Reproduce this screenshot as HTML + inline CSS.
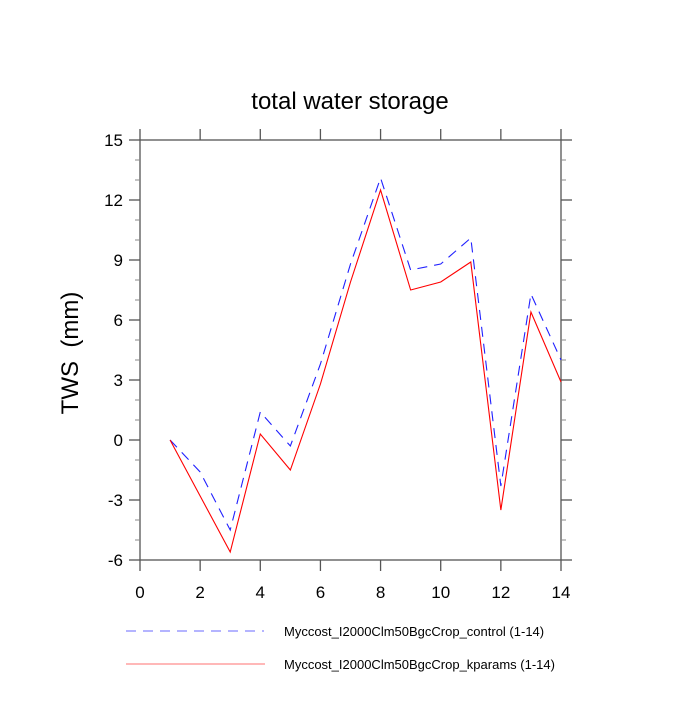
<!DOCTYPE html>
<html><head><meta charset="utf-8"><style>
body{margin:0;background:#fff}
svg text{font-family:"Liberation Sans",sans-serif;fill:#000}
</style></head><body>
<svg id="chart" width="700" height="700">
<text x="350" y="109" font-size="24" text-anchor="middle">total water storage</text>
<text transform="translate(78,353) rotate(-90)" font-size="24" text-anchor="middle">TWS&#160; (mm)</text>
<g id="axes"></g>
<g id="series"></g>
<g>
<line x1="126" y1="631" x2="264" y2="631" stroke="#6a6aff" stroke-width="1" stroke-dasharray="10,7"/>
<text x="284" y="636" font-size="13">Myccost_I2000Clm50BgcCrop_control (1-14)</text>
<line x1="126" y1="664" x2="265" y2="664" stroke="#ff7070" stroke-width="1"/>
<text x="284" y="669" font-size="13">Myccost_I2000Clm50BgcCrop_kparams (1-14)</text>
</g>
</svg>
<script>
const months = [1,2,3,4,5,6,7,8,9,10,11,12,13,14];
const controlValues = [0,-1.6,-4.5,1.4,-0.3,3.8,8.8,13.1,8.5,8.8,10.1,-2.3,7.3,4.0];
const kparamsValues = [0,-2.8,-5.6,0.3,-1.5,2.8,7.9,12.5,7.5,7.9,8.9,-3.5,6.4,2.9];
const xTicks = [0,2,4,6,8,10,12,14];
const yTicks = [-6,-3,0,3,6,9,12,15];
const yMinor = [-5,-4,-2,-1,1,2,4,5,7,8,10,11,13,14];
const L=140,R=561,T=140,B=560;
const xs=v=>L+(v-0)/(14-0)*(R-L);
const ys=v=>B-(v+6)/(21)*(B-T);
const NS='http://www.w3.org/2000/svg';
const axes=document.getElementById('axes');
function mk(tag,attrs,parent){const e=document.createElementNS(NS,tag);for(const k in attrs)e.setAttribute(k,attrs[k]);parent.appendChild(e);return e;}
const frame=mk('rect',{x:L,y:T,width:R-L,height:B-T,fill:'none',stroke:'#555','stroke-width':1.3},axes);


xTicks.forEach(t=>{
  const x=xs(t);
  const a=mk('line',{x1:x,x2:x,y1:B,y2:B+11,stroke:'#555','stroke-width':1.3},axes);
  
  
  const b=mk('line',{x1:x,x2:x,y1:T,y2:T-11,stroke:'#555','stroke-width':1.3},axes);
  
  
  const l=mk('text',{x:x,y:B+38,'font-size':17,'text-anchor':'middle'},axes);
  l.textContent=t;
  
  
});
yTicks.forEach(t=>{
  const y=ys(t);
  const a=mk('line',{x1:L-11,x2:L,y1:y,y2:y,stroke:'#555','stroke-width':1.3},axes);
  
  
  const b=mk('line',{x1:R,x2:R+11,y1:y,y2:y,stroke:'#555','stroke-width':1.3},axes);
  
  
  const l=mk('text',{x:L-17,y:y+6,'font-size':17,'text-anchor':'end'},axes);
  l.textContent=t;
  
  
});
yMinor.forEach(t=>{
  const y=ys(t);
  const a=mk('line',{x1:L-5,x2:L,y1:y,y2:y,stroke:'#888','stroke-width':1},axes);
  
  
  const b=mk('line',{x1:R,x2:R+5,y1:y,y2:y,stroke:'#888','stroke-width':1},axes);
  
  
});
const series=document.getElementById('series');
const pc=mk('polyline',{points:months.map((m,i)=>xs(m)+','+ys(controlValues[i])).join(' '),fill:'none',stroke:'#2020ff','stroke-width':1.1,'stroke-dasharray':'10,7'},series);


const pk=mk('polyline',{points:months.map((m,i)=>xs(m)+','+ys(kparamsValues[i])).join(' '),fill:'none',stroke:'#ff0000','stroke-width':1.1},series);


</script>
</body></html>
